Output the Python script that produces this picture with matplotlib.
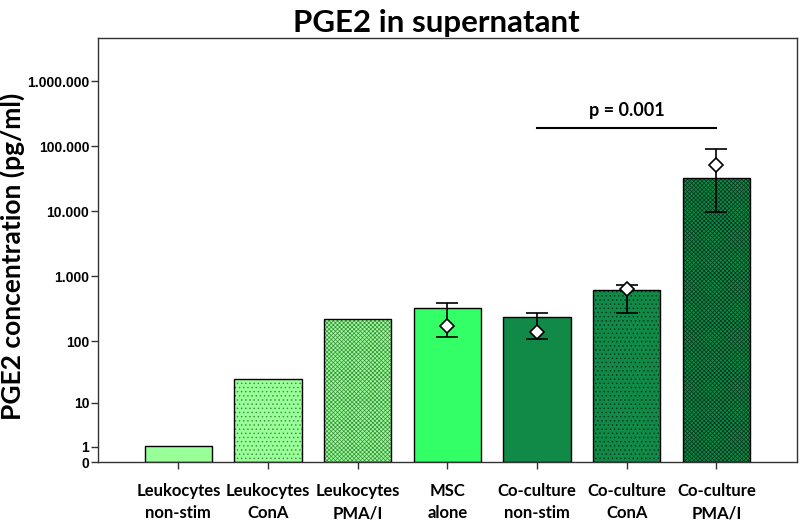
import numpy as np
import matplotlib.pyplot as plt

plt.rcParams['font.family'] = ['Lato', 'DejaVu Sans']
plt.rcParams['hatch.linewidth'] = 0.5

groups = ["Leukocytes\nnon-stim", "Leukocytes\nConA", "Leukocytes\nPMA/I", "MSC\nalone",
          "Co-culture\nnon-stim", "Co-culture\nConA", "Co-culture\nPMA/I"]
bar_values = [1.1, 25, 220, 320, 240, 620, 32700]
mean_values = [np.nan, np.nan, np.nan, 173, 140, 634, 51900]
err_low = [np.nan, np.nan, np.nan, 117, 107, 276, 9820]
err_high = [np.nan, np.nan, np.nan, 395, 270, 739, 91400]
bar_colors = ["#99ff99", "#99ff99", "#99ff99", "#33ff66", "#118a47", "#118a47", "#118a47"]
hatch_colors = ["#99ff99", "#3d8a3d", "#3d8a3d", "#33ff66", "#118a47", "#00331a", "#00331a"]
bar_hatches = [None, "....", "xxxxxxxx", None, None, "....", "xxxxxxxx"]
yticks = [0, 1, 10, 100, 1000, 10000, 100000, 1000000]
ytick_labels = ["0", "1", "10", "100", "1.000", "10.000", "100.000", "1.000.000"]

OFF = 1.4
def fwd(v):
    return np.log10(np.maximum(v, 0) + OFF)
def inv(y):
    return 10 ** y - OFF

fig = plt.figure(figsize=(8, 5.22), dpi=100)
ax = fig.add_axes([97.7 / 800, 60 / 522, 699.5 / 800, 424.3 / 522])
ax.set_yscale('function', functions=(fwd, inv))

x = np.arange(len(groups))
ax.bar(x, bar_values, width=0.75, color=bar_colors, edgecolor=hatch_colors,
       linewidth=0, hatch=bar_hatches, zorder=2)
ax.bar(x, bar_values, width=0.75, fill=False, edgecolor="black", linewidth=1, zorder=3)

m = np.array(mean_values)
yerr = [m - np.array(err_low), np.array(err_high) - m]
ax.errorbar(x, m, yerr=yerr, fmt='none', ecolor='black', elinewidth=1.2,
            capsize=8, capthick=1.2, zorder=4)
ax.plot(x, m, linestyle='none', marker='D', markersize=7.5, markerfacecolor='white',
        markeredgecolor='black', markeredgewidth=1.2, zorder=5)

# significance bar
ax.plot([4, 6], [1.95e5, 1.95e5], color='black', linewidth=1.5, zorder=4)
ax.text(5.0, 2.9e5, "p = 0.001", ha='center', va='baseline', fontsize=13, fontweight='bold')

ax.set_xlim(-0.9, 6.9)
ax.set_ylim(0, 4.7e6)
ax.set_yticks(yticks)
ax.set_yticklabels(ytick_labels, family=['Liberation Sans', 'DejaVu Sans'],
                   fontweight='bold', fontsize=10)
ax.yaxis.set_minor_locator(plt.NullLocator())
ax.set_xticks(x)
ax.set_xticklabels(groups, fontsize=12, fontweight='bold', linespacing=1.5)
ax.tick_params(axis='both', direction='out', length=5, width=1, color='#333333')
ax.tick_params(axis='x', pad=10)
ax.tick_params(axis='y', pad=1)
for s in ax.spines.values():
    s.set_color('#333333')
    s.set_linewidth(1)

ax.set_ylabel("PGE2 concentration (pg/ml)", fontsize=19, fontweight='bold')
ax.yaxis.set_label_coords(-0.104, 0.485)
fig.text(436 / 800, 1 - 32 / 522, "PGE2 in supernatant", ha='center', va='baseline',
         fontsize=22.5, fontweight='bold')

fig.savefig("out.png", dpi=100)
